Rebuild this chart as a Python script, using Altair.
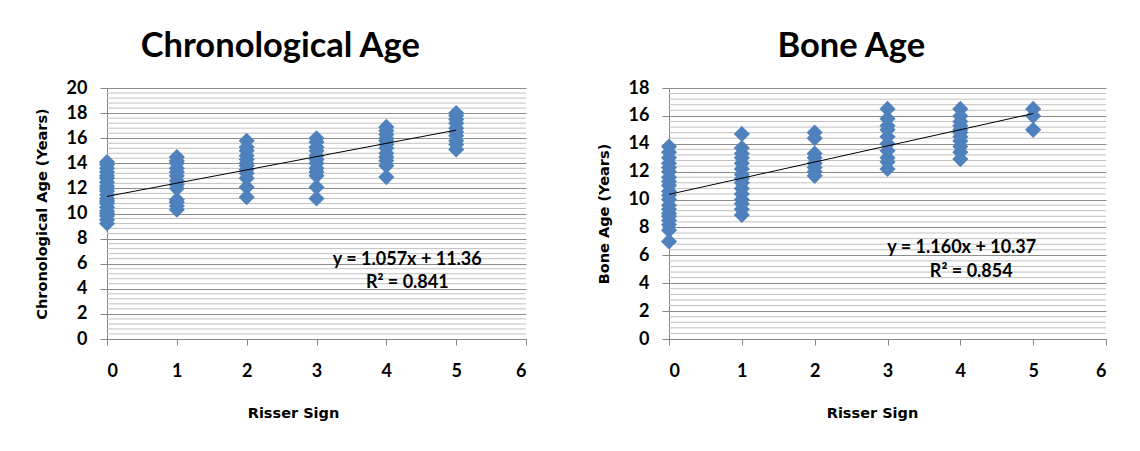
import altair as alt
import pandas as pd

# ---- data ----
risser_levels = [0, 1, 2, 3, 4, 5]

chrono_age = [
    [9.2, 9.5, 9.8, 10.0, 10.2, 10.5, 10.8, 11.0, 11.2, 11.5, 11.8, 12.0, 12.2, 12.5, 12.8, 13.0, 13.3, 13.6, 13.9, 14.1],
    [10.3, 10.6, 10.9, 11.1, 12.0, 12.3, 12.6, 13.0, 13.3, 13.6, 14.0, 14.2, 14.5],
    [11.3, 12.1, 12.8, 13.2, 13.5, 13.8, 14.0, 14.3, 14.6, 15.0, 15.3, 15.8],
    [11.2, 12.1, 13.0, 13.3, 13.6, 14.0, 14.3, 14.6, 15.0, 15.3, 15.7, 16.0],
    [12.9, 13.8, 14.2, 14.5, 14.8, 15.2, 15.5, 15.8, 16.0, 16.3, 16.6, 16.9],
    [15.1, 15.5, 15.8, 16.2, 16.5, 16.8, 17.2, 17.5, 17.8, 18.0],
]

bone_age = [
    [7.0, 7.8, 8.2, 8.5, 8.8, 9.0, 9.3, 9.6, 10.0, 10.3, 10.6, 11.0, 11.3, 11.6, 12.0, 12.3, 12.6, 13.0, 13.4, 13.8],
    [8.9, 9.3, 9.7, 10.0, 10.4, 10.8, 11.2, 11.5, 11.8, 12.2, 12.6, 13.0, 13.3, 13.7, 14.7],
    [11.7, 12.0, 12.3, 12.6, 13.0, 13.3, 14.4, 14.8],
    [12.2, 12.7, 13.0, 13.5, 14.0, 14.5, 15.0, 15.3, 15.8, 16.5],
    [12.9, 13.4, 13.8, 14.2, 14.5, 14.8, 15.0, 15.3, 15.6, 16.0, 16.5],
    [15.0, 16.0, 16.5],
]

trend_x = [0, 5]
chrono_trend = [11.36, 16.645]
bone_trend = [10.37, 16.17]

chrono_eq = ["y = 1.057x + 11.36", "R² = 0.841"]
bone_eq = ["y = 1.160x + 10.37", "R² = 0.854"]

x_ticks = [0, 1, 2, 3, 4, 5, 6]

BLUE = "#4F81BD"
MAJOR = "#8C8C8C"
MINOR = "#C0C0C0"
AXIS_GRAY = "#868686"


def panel(values, trend, eq, eq_x, eq_y, title, ytitle, ymax, width, height, xtitle_x):
    pts = pd.DataFrame(
        [(r, v) for r, vals in zip(risser_levels, values) for v in vals],
        columns=["x", "y"],
    )
    minor = pd.DataFrame(
        {"y": [round(i * 0.4, 1) for i in range(int(round(ymax / 0.4)) + 1) if i % 5]}
    )
    tr = pd.DataFrame({"x": trend_x, "y": trend})
    txt = pd.DataFrame({"x": eq_x, "y": eq_y, "t": eq})

    xs = alt.Scale(domain=[0, 6], nice=False, zero=False)
    ys = alt.Scale(domain=[0, ymax], nice=False)

    xaxis = alt.Axis(
        values=x_ticks, grid=False, tickSize=6, tickColor=AXIS_GRAY,
        domainColor=AXIS_GRAY, labelPadding=17, labelFont="Lato",
        labelFontSize=18, labelFontWeight="bold", labelColor="black",
        titleFont="DejaVu Sans", titleFontSize=14.5, titleFontWeight="bold",
        titleColor="black", titlePadding=26, format="d", titleX=xtitle_x,
    )
    yaxis = alt.Axis(
        values=list(range(0, ymax + 1, 2)), grid=True, gridColor=MAJOR,
        tickSize=7, tickColor=AXIS_GRAY, domainColor=AXIS_GRAY,
        labelPadding=13, labelFont="Lato", labelFontSize=18,
        labelFontWeight="bold", labelColor="black",
        titleFont="DejaVu Sans", titleFontSize=14.5, titleFontWeight="bold",
        titleColor="black", titlePadding=17, format="d",
    )

    def Y():
        return alt.Y("y:Q", scale=ys, axis=yaxis, title=ytitle)

    def X():
        return alt.X("x:Q", scale=xs, axis=xaxis, title="Risser Sign")

    grid = alt.Chart(minor).mark_rule(color=MINOR, strokeWidth=1).encode(
        y=Y(), x=alt.value(0), x2=alt.value(width)
    )
    points = alt.Chart(pts).mark_point(
        shape="diamond", filled=True, size=260, color=BLUE, opacity=1
    ).encode(x=X(), y=Y())
    line = alt.Chart(tr).mark_line(color="black", strokeWidth=1).encode(x=X(), y=Y())
    label = alt.Chart(txt).mark_text(
        font="Lato", fontSize=18, fontWeight="bold", color="black"
    ).encode(x=X(), y=Y(), text="t:N")

    return alt.layer(grid, points, line, label).properties(
        width=width, height=height,
        title=alt.TitleParams(
            text=title, font="Lato", fontSize=34.5, fontWeight="bold",
            color="black", anchor="middle", offset=15, frame="bounds",
        ),
    )


left = panel(chrono_age, chrono_trend, chrono_eq, [4.3, 4.3], [6.3, 4.45],
             "Chronological Age", "Chronological Age (Years)", 20, 419, 251, 186)
right = panel(bone_age, bone_trend, bone_eq, [4.02, 4.15], [6.55, 4.8],
              "Bone Age", "Bone Age (Years)", 18, 437, 251, 203)

chart = alt.hconcat(left, right, spacing=69).properties(
    padding={"left": 26, "top": 20, "right": 5, "bottom": 5},
    background="white",
).configure_view(stroke=None)

chart.save("out.html", embed_options={"renderer": "svg", "actions": False})
